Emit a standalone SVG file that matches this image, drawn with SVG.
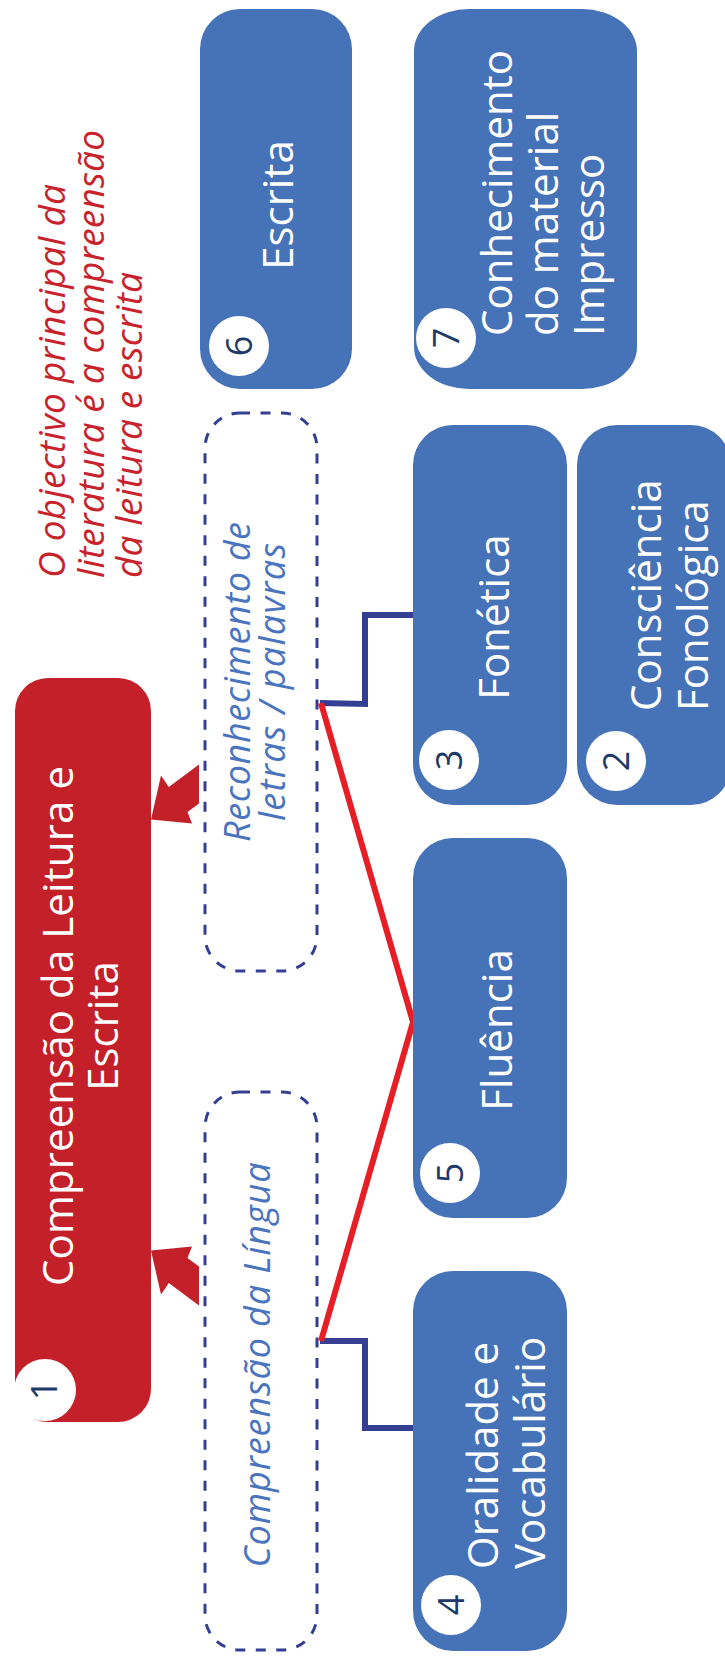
<svg xmlns="http://www.w3.org/2000/svg" width="725" height="1656" viewBox="0 0 725 1656">
<style>
.blue{fill:#4672b8}
.num{fill:#fff}
.numt{font-family:"Open Sans","DejaVu Sans",sans-serif;font-size:36px;fill:#1f3a68;text-anchor:middle}
.lbl{font-family:"Open Sans","DejaVu Sans",sans-serif;font-size:42px;fill:#fff}
.dash{fill:none;stroke:#343f94;stroke-width:3;stroke-dasharray:10 10.5}
.it{font-family:"Open Sans","DejaVu Sans",sans-serif;font-style:italic;font-size:36px;fill:#4a74bd}
.ann{font-family:"Open Sans","DejaVu Sans",sans-serif;font-style:italic;font-size:37px;fill:#c8232c}
</style>
<rect width="725" height="1656" fill="#fff"/>

<g id="annotation">
<text class="ann" transform="translate(65,578) rotate(-90)"><tspan x="0" y="0" textLength="394" lengthAdjust="spacing">O objectivo principal da</tspan><tspan x="0" dy="38.5" textLength="448" lengthAdjust="spacing">literatura é a compreensão</tspan><tspan x="0" dy="38.5" textLength="306" lengthAdjust="spacing">da leitura e escrita</tspan></text>
</g>

<g id="node1">
<rect x="15" y="678" width="136" height="744" rx="33" ry="33" fill="#c3202a"/>
<circle cx="45" cy="1390" r="31" class="num"/>
<text class="numt" transform="translate(57,1390) rotate(-90)">1</text>
<text class="lbl" text-anchor="middle" transform="translate(73,1026) rotate(-90)"><tspan x="0" y="0" textLength="520" lengthAdjust="spacing">Compreensão da Leitura e</tspan><tspan x="0" dy="45">Escrita</tspan></text>
</g>

<g id="group-word-recognition">
<rect x="205" y="413" width="112" height="558" rx="35" ry="35" class="dash"/>
<text class="it" text-anchor="middle" transform="translate(250,682) rotate(-90)"><tspan x="0" y="0" textLength="320" lengthAdjust="spacing">Reconhecimento de</tspan><tspan x="0" dy="35" textLength="278" lengthAdjust="spacing">letras / palavras</tspan></text>
</g>

<g id="group-language">
<rect x="205" y="1092" width="112" height="558" rx="35" ry="35" class="dash"/>
<text class="it" text-anchor="middle" textLength="405" lengthAdjust="spacing" transform="translate(270,1365) rotate(-90)">Compreensão da Língua</text>
</g>

<g id="connectors">
<polygon points="199,764.5 168.8,786.9 161,775.4 151,819.6 192,823.5 187.5,812.1 199,803.5" fill="#c3202a"/>
<polygon points="199,1305.5 168.8,1283.1 161,1294.6 151,1250.4 192,1246.5 187.5,1257.9 199,1266.5" fill="#c3202a"/>
<polyline points="320,703 365,704 365,615 414,615" fill="none" stroke="#343f94" stroke-width="6"/>
<polyline points="320,1341 365,1341 365,1428 414,1428" fill="none" stroke="#343f94" stroke-width="6"/>
<polyline points="321,703 413,1022 321,1341" fill="none" stroke="#e61e25" stroke-width="6" stroke-linejoin="miter"/>
</g>

<g id="node6">
<rect x="200" y="9" width="152" height="380" rx="40" ry="40" class="blue"/>
<circle cx="239" cy="346" r="30" class="num"/>
<text class="numt" transform="translate(252,346) rotate(-90)">6</text>
<text class="lbl" text-anchor="middle" transform="translate(293,205) rotate(-90)">Escrita</text>
</g>

<g id="node7">
<rect x="414" y="9" width="223" height="380" rx="55" ry="42" class="blue"/>
<circle cx="446" cy="338" r="30" class="num"/>
<text class="numt" transform="translate(459,338) rotate(-90)">7</text>
<text class="lbl" transform="translate(512,336) rotate(-90)"><tspan x="0" y="0">Conhecimento</tspan><tspan x="0" dy="46">do material</tspan><tspan x="0" dy="46">Impresso</tspan></text>
</g>

<g id="node3">
<rect x="413" y="425" width="154" height="380" rx="40" ry="40" class="blue"/>
<circle cx="449" cy="760" r="30" class="num"/>
<text class="numt" transform="translate(462,760) rotate(-90)">3</text>
<text class="lbl" text-anchor="middle" transform="translate(509,617) rotate(-90)">Fonética</text>
</g>

<g id="node2">
<rect x="577" y="425" width="154" height="380" rx="40" ry="40" class="blue"/>
<circle cx="616" cy="761" r="30" class="num"/>
<text class="numt" transform="translate(629,761) rotate(-90)">2</text>
<text class="lbl" transform="translate(661,711) rotate(-90)"><tspan x="0" y="0">Consciência</tspan><tspan x="0" dy="47">Fonológica</tspan></text>
</g>

<g id="node5">
<rect x="413" y="838" width="154" height="380" rx="40" ry="40" class="blue"/>
<circle cx="450" cy="1173" r="30" class="num"/>
<text class="numt" transform="translate(463,1173) rotate(-90)">5</text>
<text class="lbl" text-anchor="middle" transform="translate(512,1030) rotate(-90)">Fluência</text>
</g>

<g id="node4">
<rect x="413" y="1271" width="154" height="380" rx="40" ry="40" class="blue"/>
<circle cx="451" cy="1605" r="30" class="num"/>
<text class="numt" transform="translate(464,1605) rotate(-90)">4</text>
<text class="lbl" transform="translate(498,1569) rotate(-90)"><tspan x="0" y="0">Oralidade e</tspan><tspan x="0" dy="47">Vocabulário</tspan></text>
</g>
</svg>
